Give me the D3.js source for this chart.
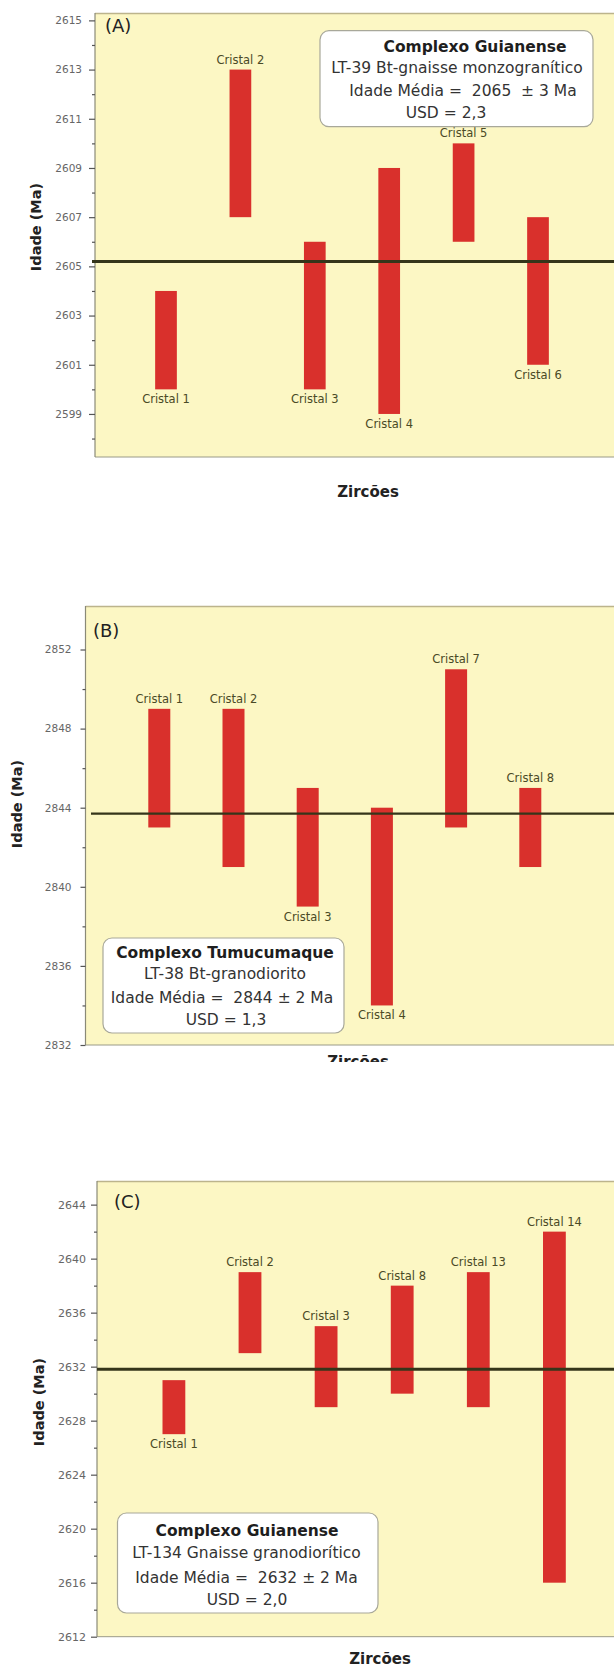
<!DOCTYPE html>
<html><head><meta charset="utf-8">
<script src="https://cdn.jsdelivr.net/npm/d3@7"></script>
<style>body{margin:0;background:#fff} svg{display:block}</style>
</head><body><svg id="chart" width="614" height="1667"></svg>
<script>
// ---------- data ----------
const crystalsA = ["Cristal 1","Cristal 2","Cristal 3","Cristal 4","Cristal 5","Cristal 6"];
const lowA  = [2600, 2607, 2600, 2599, 2606, 2601];
const highA = [2604, 2613, 2606, 2609, 2610, 2607];
const sideA = ["below","above","below","below","above","below"];
const meanA = 2605.2;
const ticksA = [2599, 2601, 2603, 2605, 2607, 2609, 2611, 2613, 2615];
const minorA = [2598, 2600, 2602, 2604, 2606, 2608, 2610, 2612, 2614];
const boxA = ["Complexo Guianense", "LT-39 Bt-gnaisse monzogranítico", "Idade Média =  2065  ± 3 Ma", "USD = 2,3"];

const crystalsB = ["Cristal 1","Cristal 2","Cristal 3","Cristal 4","Cristal 7","Cristal 8"];
const lowB  = [2843, 2841, 2839, 2834, 2843, 2841];
const highB = [2849, 2849, 2845, 2844, 2851, 2845];
const sideB = ["above","above","below","below","above","above"];
const meanB = 2843.7;
const ticksB = [2832, 2836, 2840, 2844, 2848, 2852];
const minorB = [2834, 2838, 2842, 2846, 2850];
const boxB = ["Complexo Tumucumaque", "LT-38 Bt-granodiorito", "Idade Média =  2844 ± 2 Ma", "USD = 1,3"];

const crystalsC = ["Cristal 1","Cristal 2","Cristal 3","Cristal 8","Cristal 13","Cristal 14"];
const lowC  = [2627, 2633, 2629, 2630, 2629, 2616];
const highC = [2631, 2639, 2635, 2638, 2639, 2642];
const sideC = ["below","above","above","above","above","above"];
const meanC = 2631.8;
const ticksC = [2612, 2616, 2620, 2624, 2628, 2632, 2636, 2640, 2644];
const minorC = [2614, 2618, 2622, 2626, 2630, 2634, 2638, 2642];
const boxC = ["Complexo Guianense", "LT-134 Gnaisse granodiorítico", "Idade Média =  2632 ± 2 Ma", "USD = 2,0"];

// ---------- layout ----------
const FONT = "'DejaVu Sans', Verdana, sans-serif";
const svg = d3.select("#chart");
svg.append("rect").attr("width",614).attr("height",1667).attr("fill","#fff");

const panels = [
  { tag:"(A)", cats:crystalsA, low:lowA, high:highA, side:sideA, mean:meanA, ticks:ticksA, minor:minorA, box:boxA,
    plot:{x0:95, x1:614, y0:13, y1:457}, domain:[2597.25, 2615.3], xr:[91.6, 612.4], bw:21.7,
    tickLen:6, tickPad:7, tickFont:10.5, tagPos:[105, 31.5], meanW:3, meanX0:92,
    boxRect:[320, 30.7, 273, 96], boxX:[475, 457, 463, 446], boxY:[51.7, 73, 95.5, 117.5],
    yTitle:[41, 227], xTitle:[368, 497], clipX:null },
  { tag:"(B)", cats:crystalsB, low:lowB, high:highB, side:sideB, mean:meanB, ticks:ticksB, minor:minorB, box:boxB,
    plot:{x0:85.5, x1:614, y0:606, y1:1045}, domain:[2832, 2854.2], xr:[85.1, 604.5], bw:22,
    tickLen:5, tickPad:9, tickFont:10.5, tagPos:[93, 637], meanW:2.2, meanX0:91,
    boxRect:[103, 938, 241, 95], boxX:[225, 225, 222, 226], boxY:[957.5, 979, 1003, 1025],
    yTitle:[22, 804], xTitle:[358, 1067], clipX:1062 },
  { tag:"(C)", cats:crystalsC, low:lowC, high:highC, side:sideC, mean:meanC, ticks:ticksC, minor:minorC, box:boxC,
    plot:{x0:97, x1:614, y0:1181, y1:1636.7}, domain:[2612, 2645.75], xr:[97.8, 630.5], bw:22.8,
    tickLen:6, tickPad:5, tickFont:11, tagPos:[114, 1208], meanW:3, meanX0:97,
    boxRect:[117.5, 1513, 260.5, 100], boxX:[247, 246.5, 246.5, 247], boxY:[1536, 1558, 1583, 1605],
    yTitle:[44, 1402], xTitle:[380, 1664], clipX:null }
];

panels.forEach((p, pi) => {
  const g = svg.append("g");
  const P = p.plot;
  const y = d3.scaleLinear().domain(p.domain).range([P.y1, P.y0]);
  const x = d3.scalePoint().domain(p.cats).range(p.xr).padding(1);

  // background
  g.append("rect").attr("x",P.x0).attr("y",P.y0).attr("width",P.x1-P.x0).attr("height",P.y1-P.y0)
    .attr("fill","#fcf7c4");
  g.append("line").attr("x1",P.x0).attr("x2",P.x1).attr("y1",P.y0+0.5).attr("y2",P.y0+0.5)
    .attr("stroke","#bcb48c").attr("stroke-width",1.5);
  g.append("line").attr("x1",P.x0).attr("x2",P.x1).attr("y1",P.y1).attr("y2",P.y1)
    .attr("stroke","#9a9a88").attr("stroke-width",1);

  // y axis (major)
  const ax = g.append("g").attr("transform",`translate(${P.x0},0)`)
    .call(d3.axisLeft(y).tickValues(p.ticks).tickFormat(d3.format("d"))
      .tickSize(p.tickLen).tickSizeOuter(0).tickPadding(p.tickPad));
  ax.select(".domain").attr("stroke","#8a8a78").attr("stroke-width",1.2)
    .attr("d",`M0,${P.y0}V${P.y1}`);
  ax.selectAll(".tick line").attr("stroke","#555").attr("stroke-width",1.2);
  ax.selectAll(".tick text").attr("fill","#666").style("font-family",FONT).style("font-size",p.tickFont+"px");
  // minor ticks
  const mx = g.append("g").attr("transform",`translate(${P.x0},0)`)
    .call(d3.axisLeft(y).tickValues(p.minor).tickFormat("").tickSize(3).tickSizeOuter(0));
  mx.select(".domain").remove();
  mx.selectAll(".tick line").attr("stroke","#555").attr("stroke-width",1.2);

  // bars
  const data = p.cats.map((c,i)=>({c, lo:p.low[i], hi:p.high[i], side:p.side[i]}));
  g.selectAll("rect.bar").data(data).enter().append("rect").attr("class","bar")
    .attr("x",d=>x(d.c)-p.bw/2).attr("width",p.bw)
    .attr("y",d=>y(d.hi)).attr("height",d=>y(d.lo)-y(d.hi))
    .attr("fill","#d9302c");

  // mean line
  g.append("line").attr("x1",p.meanX0).attr("x2",P.x1).attr("y1",y(p.mean)).attr("y2",y(p.mean))
    .attr("stroke","#35351a").attr("stroke-width",p.meanW);

  // bar labels
  g.selectAll("text.lab").data(data).enter().append("text").attr("class","lab")
    .attr("x",d=>x(d.c)).attr("y",d=>d.side==="above" ? y(d.hi)-6 : y(d.lo)+14)
    .attr("text-anchor","middle").attr("fill","#4a4a26")
    .style("font-family",FONT).style("font-size","11.5px").text(d=>d.c);

  // panel tag
  g.append("text").attr("x",p.tagPos[0]).attr("y",p.tagPos[1]).attr("fill","#222")
    .style("font-family",FONT).style("font-size","18px").text(p.tag);

  // info box
  const r = p.boxRect;
  g.append("rect").attr("x",r[0]).attr("y",r[1]).attr("width",r[2]).attr("height",r[3])
    .attr("rx",9).attr("fill","#fff").attr("stroke","#a8a89a").attr("stroke-width",1.2);
  p.box.forEach((t,i)=>{
    g.append("text").attr("x",p.boxX[i]).attr("y",p.boxY[i]).attr("text-anchor","middle")
      .attr("fill", i===0 ? "#1e1e1e" : "#333")
      .style("font-family",FONT).style("font-size","15.5px").style("font-weight", i===0 ? "bold" : "normal")
      .style("white-space","pre").text(t);
  });

  // axis titles
  g.append("text").attr("transform",`translate(${p.yTitle[0]},${p.yTitle[1]}) rotate(-90)`)
    .attr("text-anchor","middle").attr("fill","#222")
    .style("font-family",FONT).style("font-size","14.5px").style("font-weight","bold").text("Idade (Ma)");

  let xt = g.append("text").attr("x",p.xTitle[0]).attr("y",p.xTitle[1]).attr("text-anchor","middle")
    .attr("fill","#222").style("font-family",FONT).style("font-size","15px").style("font-weight","bold").text("Zircões");
  if (p.clipX) {
    svg.append("clipPath").attr("id","clipB").append("rect").attr("x",0).attr("y",0).attr("width",614).attr("height",p.clipX);
    xt.attr("clip-path","url(#clipB)");
  }
});
</script></body></html>
